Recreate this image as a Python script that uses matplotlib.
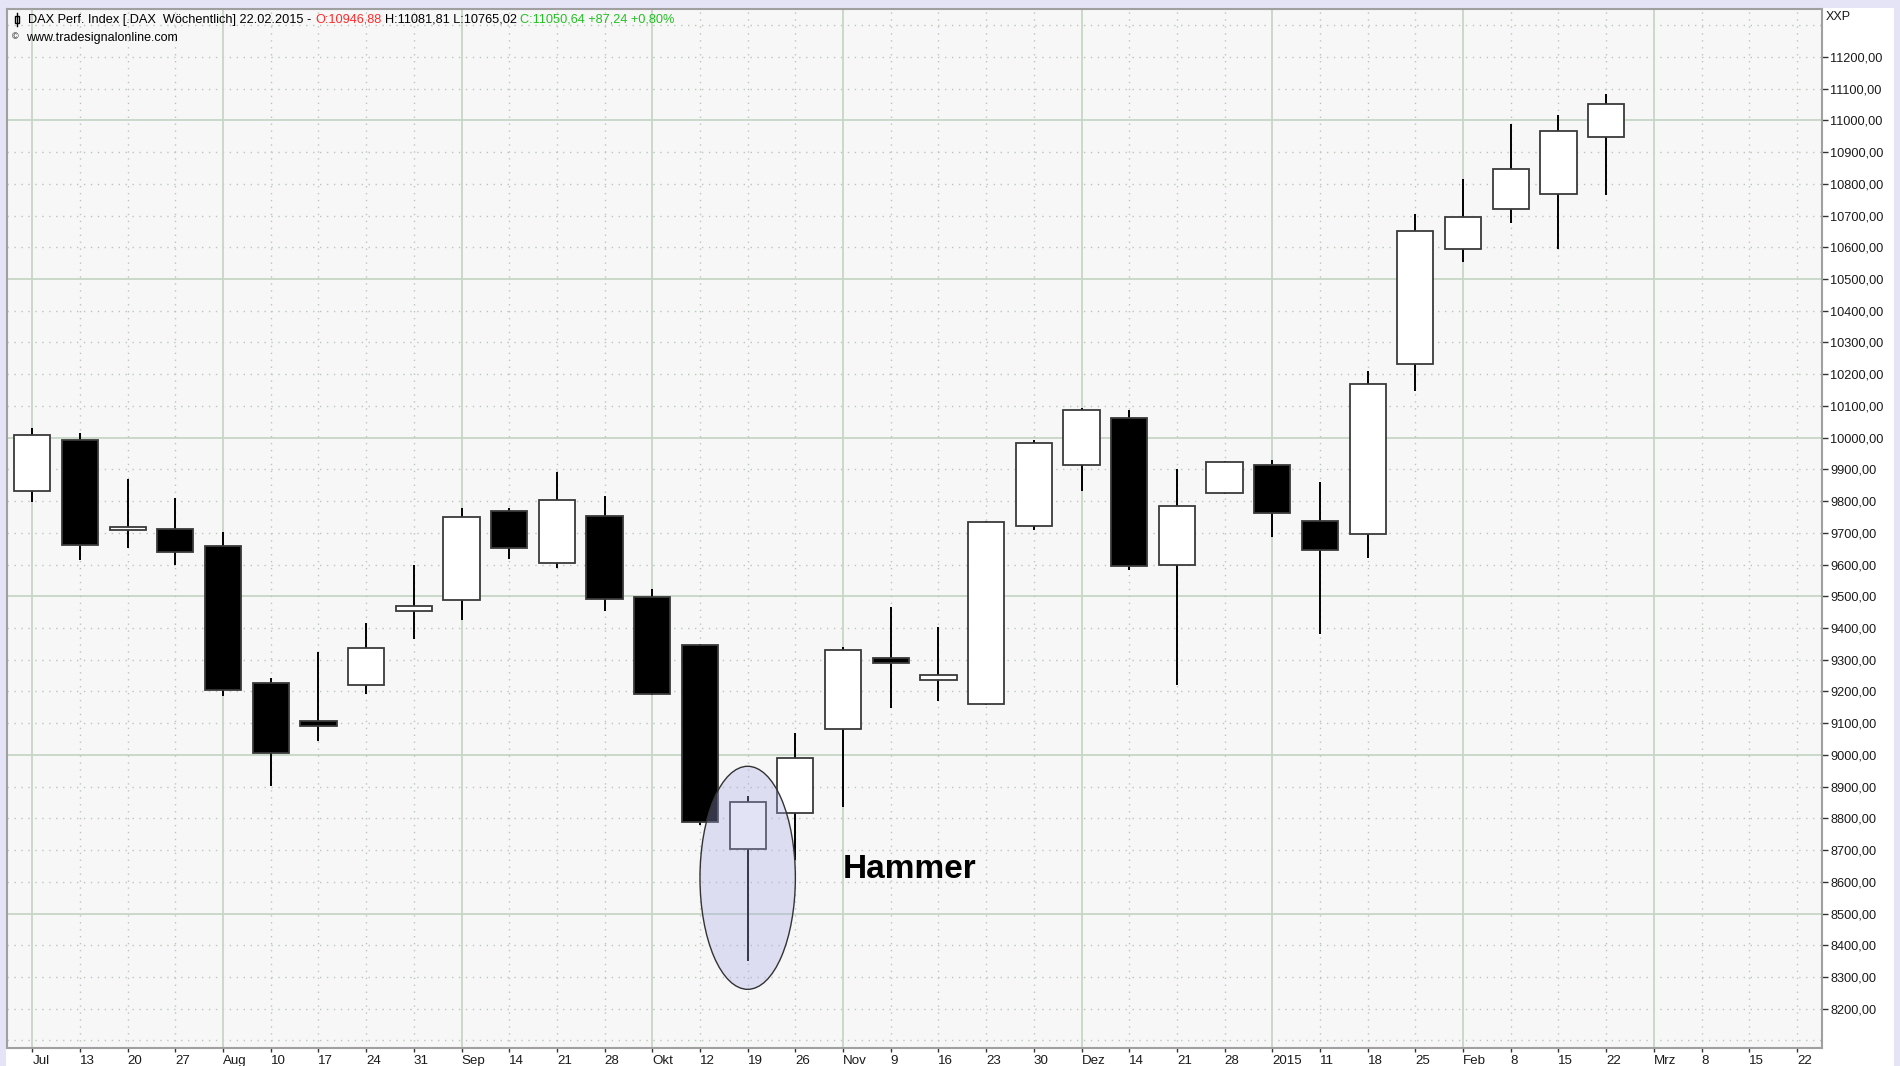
import matplotlib
matplotlib.use("Agg")
import matplotlib.pyplot as plt
from matplotlib.patches import Rectangle, Ellipse
from matplotlib.lines import Line2D

# weekly DAX candles, Jul 2014 - Feb 2015
weeks = ["Jul", "13", "20", "27", "Aug", "10", "17", "24", "31", "Sep", "14", "21", "28",
         "Okt", "12", "19", "26", "Nov", "9", "16", "23", "30", "Dez", "14", "21", "28",
         "2015", "11", "18", "25", "Feb", "8", "15", "22", "Mrz", "8", "15", "22"]
months = ["Jul", "Aug", "Sep", "Okt", "Nov", "Dez", "2015", "Feb", "Mrz"]

opens = [9832, 9993, 9709, 9711, 9659, 9225, 9106, 9219, 9455, 9487, 9770, 9605, 9752,
         9498, 9345, 8702, 8818, 9083, 9306, 9235, 9160, 9721, 9914, 10061, 9599, 9825,
         9915, 9738, 9696, 10232, 10593, 10720, 10768, 10946.88]
highs = [10029, 10015, 9870, 9810, 9703, 9241, 9324, 9415, 9600, 9777, 9777, 9893, 9815,
         9524, 9348, 8870, 9068, 9339, 9466, 9403, 9737, 9994, 10093, 10087, 9902, 9925,
         9928, 9861, 10211, 10706, 10815, 10990, 11016, 11081.81]
lows = [9797, 9615, 9652, 9597, 9184, 8902, 9045, 9192, 9364, 9426, 9618, 9589, 9454,
        9190, 8780, 8351, 8668, 8835, 9148, 9170, 9158, 9709, 9831, 9582, 9219, 9822,
        9687, 9381, 9620, 10147, 10552, 10678, 10596, 10765.02]
closes = [10007, 9663, 9718, 9641, 9206, 9006, 9092, 9338, 9469, 9751, 9653, 9803, 9492,
          9193, 8787, 8852, 8989, 9329, 9290, 9253, 9733, 9983, 10086, 9594, 9784, 9923,
          9761, 9647, 10169, 10650, 10695, 10847, 10966, 11050.64]

price_ticks = list(range(8200, 11201, 100))
grid_levels = list(range(8100, 11400, 100))

hammer_week = 15
hammer_zone = (8261, 8964)

W, H = 1900, 1066
plt.rcParams['font.family'] = ['Liberation Sans', 'DejaVu Sans']

fig = plt.figure(figsize=(W / 100, H / 100), dpi=100, facecolor='#e4e4f6')
fig.add_artist(Rectangle((6 / W, 0), (1894 - 6) / W, 1 - 8 / H, transform=fig.transFigure,
                         facecolor='white', edgecolor='none', zorder=0))

ax = fig.add_axes([7.3 / W, 1 - 1047.7 / H, (1821.7 - 7.3) / W, (1047.7 - 9) / H])
ax.set_facecolor('#f7f7f7')

# grid: solid at 500s and month starts, dotted otherwise
for v in grid_levels:
    if v % 500 == 0:
        ax.axhline(v, color='#c6d6c6', lw=1.3, zorder=1)
    else:
        ax.axhline(v, color='#b9c7b9', lw=1.0, ls=(0, (1, 4)), zorder=1)
for i, w in enumerate(weeks):
    if w in months:
        ax.axvline(i, color='#c6d6c6', lw=1.3, zorder=1)
    else:
        ax.axvline(i, color='#b9c7b9', lw=1.0, ls=(0, (1, 4)), zorder=1)

# candles
for i, (o, h, l, c) in enumerate(zip(opens, highs, lows, closes)):
    ax.vlines(i, l, h, color='black', lw=1.4, zorder=2)
    body = Rectangle((i - 0.38, min(o, c)), 0.76, abs(c - o),
                     facecolor='white' if c >= o else 'black',
                     edgecolor='#3a3a3a', lw=1.3, zorder=3)
    ax.add_patch(body)

# hammer highlight
ax.add_patch(Ellipse((hammer_week, sum(hammer_zone) / 2), 2.0, hammer_zone[1] - hammer_zone[0],
                     facecolor=(0.66, 0.66, 0.9, 0.32), edgecolor='#333333', lw=1.0, zorder=4))
ax.text(16.99, 8639, "Hammer", fontsize=24, fontweight='bold', ha='left', va='center',
        color='black', zorder=5)

ax.set_xlim(-0.524, 37.52)
ax.set_ylim(8077, 11351)

ax.set_xticks(range(len(weeks)))
ax.set_xticklabels(weeks, ha='left')
ax.tick_params(axis='x', length=3, width=1, color='#333333', pad=2.5, labelsize=9.6,
               labelcolor='#1a1a1a')

ax.yaxis.tick_right()
ax.set_yticks(price_ticks)
ax.set_yticklabels([f"{v:.2f}".replace('.', ',') for v in price_ticks])
ax.tick_params(axis='y', length=4, width=1, color='#333333', pad=2, labelsize=9.2,
               labelcolor='#1a1a1a')

for sp in ax.spines.values():
    sp.set_color('#a0a0a0')
    sp.set_linewidth(1.5)

fig.text(1826 / W, 1 - 17 / H, "XXP", fontsize=9, ha='left', va='center', color='#1a1a1a')

# header line with coloured parts
fig.add_artist(Line2D([17 / W, 17 / W], [1 - 13 / H, 1 - 26 / H], color='black', lw=1,
                      transform=fig.transFigure))
fig.add_artist(Rectangle((15 / W, 1 - 23 / H), 4 / W, 7 / H, transform=fig.transFigure,
                         facecolor='white', edgecolor='black', lw=1))
header_parts = [("DAX Perf. Index [.DAX  Wöchentlich] 22.02.2015 -", 'black'),
                ("O:10946,88", '#ff2a2a'),
                ("H:11081,81 L:10765,02", 'black'),
                ("C:11050,64 +87,24 +0,80%", '#22c022')]
fig.canvas.draw()
renderer = fig.canvas.get_renderer()
hx = 28
hsize = 9.15
for s, col in header_parts:
    t = fig.text(hx / W, 1 - 19.5 / H, s, color=col, fontsize=hsize, ha='left', va='center')
    hx += t.get_window_extent(renderer).width + hsize * 1.389 * 0.278
fig.text(12 / W, 1 - 37 / H, "©", fontsize=6.5, ha='left', va='center', color='black')
fig.text(26 / W, 1 - 38 / H, "www.tradesignalonline.com", fontsize=9, ha='left', va='center',
         color='black')

fig.savefig("out.png", dpi=100, facecolor=fig.get_facecolor())
